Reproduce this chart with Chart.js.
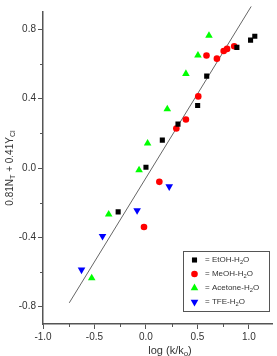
<!DOCTYPE html>
<html>
<head>
<meta charset="utf-8">
<script src="https://cdn.jsdelivr.net/npm/chart.js@4.4.1/dist/chart.umd.min.js"></script>
<style>
  html, body { margin: 0; padding: 0; background: #fff; }
</style>
</head>
<body>
<canvas id="myChart" width="277" height="356"></canvas>
<script>
// data
const etohX = [-0.27, 0.0, 0.159, 0.311, 0.502, 0.59, 0.883, 1.016, 1.057];
const etohY = [-0.253, 0.004, 0.161, 0.253, 0.361, 0.53, 0.696, 0.738, 0.76];

const meohX = [-0.019, 0.13, 0.295, 0.388, 0.508, 0.588, 0.689, 0.755, 0.788, 0.857];
const meohY = [-0.34, -0.08, 0.228, 0.28, 0.413, 0.649, 0.631, 0.675, 0.687, 0.702];

const acetoneX = [-0.527, -0.362, -0.067, 0.016, 0.207, 0.388, 0.505, 0.612];
const acetoneY = [-0.635, -0.267, -0.012, 0.142, 0.34, 0.544, 0.65, 0.764];

const tfeX = [-0.626, -0.422, -0.086, 0.226];
const tfeY = [-0.587, -0.393, -0.245, -0.107];

const fitX = [-0.745, 1.022];
const fitY = [-0.778, 0.932];

const xMajor = [-1.0, -0.5, 0.0, 0.5, 1.0];
const xMinor = [-0.75, -0.25, 0.25, 0.75];
const yMajor = [-0.8, -0.4, 0.0, 0.4, 0.8];
const yMinor = [-0.6, -0.2, 0.2, 0.6];

const seriesNames = ["EtOH-H", "MeOH-H", "Acetone-H", "TFE-H"];

const axisColor = "#555";
const textColor = "#333";
const font = "Liberation Sans, Arial, sans-serif";

const pts = (xs, ys) => xs.map((v, i) => ({ x: v, y: ys[i] }));

// draw text made of [text, isSub] pieces, starting at x
function drawParts(c, parts, x, y, size) {
  parts.forEach(([t, sub]) => {
    c.font = (sub ? size * 0.72 : size) + "px " + font;
    c.fillText(t, x, sub ? y + size * 0.3 : y);
    x += c.measureText(t).width;
  });
  return x;
}
function partsWidth(c, parts, size) {
  let w = 0;
  parts.forEach(([t, sub]) => {
    c.font = (sub ? size * 0.72 : size) + "px " + font;
    w += c.measureText(t).width;
  });
  return w;
}

const extras = {
  id: "extras",
  afterDraw(chart) {
    const c = chart.ctx;
    const a = chart.chartArea;
    const xs = chart.scales.x;
    const ys = chart.scales.y;

    // minor ticks
    c.save();
    c.strokeStyle = axisColor;
    c.lineWidth = 1;
    xMinor.forEach((v) => {
      const p = Math.round(xs.getPixelForValue(v)) + 0.5;
      c.beginPath();
      c.moveTo(p, a.bottom);
      c.lineTo(p, a.bottom + 3);
      c.stroke();
    });
    yMinor.forEach((v) => {
      const p = Math.round(ys.getPixelForValue(v)) + 0.5;
      c.beginPath();
      c.moveTo(a.left, p);
      c.lineTo(a.left - 3, p);
      c.stroke();
    });

    // axis titles
    c.fillStyle = textColor;
    c.textBaseline = "middle";
    c.textAlign = "left";
    const xt = [["log (k/k", false], ["o", true], [")", false]];
    const xw = partsWidth(c, xt, 11);
    drawParts(c, xt, 170 - xw / 2, 351, 11);

    const yt = [["0.81N", false], ["T", true], [" + 0.41Y", false], ["Cl", true]];
    c.save();
    c.translate(10, 168);
    c.rotate(-Math.PI / 2);
    const yw = partsWidth(c, yt, 10);
    drawParts(c, yt, -yw / 2, 0, 10);
    c.restore();

    // legend box
    c.strokeStyle = axisColor;
    c.lineWidth = 1;
    c.strokeRect(183.5, 251.5, 86, 60);
    const rows = [260, 274, 288, 302];
    chart.data.datasets.slice(0, 4).forEach((ds, i) => {
      c.fillStyle = ds.backgroundColor;
      Chart.helpers.drawPoint(
        c,
        { pointStyle: ds.pointStyle, rotation: ds.rotation || 0, radius: ds.pointRadius, borderWidth: 0 },
        194.5,
        rows[i]
      );
      c.fillStyle = textColor;
      drawParts(c, [["= " + seriesNames[i], false], ["2", true], ["O", false]], 205, rows[i], 8);
    });
    c.restore();
  },
};

const ctx = document.getElementById("myChart");

const myChart = new Chart(ctx, {
  type: "scatter",
  data: {
    datasets: [
      {
        data: pts(etohX, etohY),
        pointStyle: "rect",
        pointRadius: 3.6,
        backgroundColor: "#000000",
        borderWidth: 0,
      },
      {
        data: pts(meohX, meohY),
        pointStyle: "circle",
        pointRadius: 3.3,
        backgroundColor: "#ff0000",
        borderWidth: 0,
      },
      {
        data: pts(acetoneX, acetoneY),
        pointStyle: "triangle",
        pointRadius: 4.4,
        backgroundColor: "#00ff00",
        borderWidth: 0,
      },
      {
        data: pts(tfeX, tfeY),
        pointStyle: "triangle",
        rotation: 180,
        pointRotation: 180,
        pointRadius: 4.4,
        backgroundColor: "#0000ff",
        borderWidth: 0,
      },
      {
        type: "line",
        data: pts(fitX, fitY),
        borderColor: "#666",
        borderWidth: 1,
        pointRadius: 0,
        fill: false,
        clip: false,
      },
    ],
  },
  options: {
    responsive: false,
    animation: false,
    events: [],
    layout: { padding: { top: 12, right: 1, left: 0, bottom: 0 } },
    plugins: {
      legend: { display: false },
      tooltip: { enabled: false },
    },
    scales: {
      x: {
        type: "linear",
        min: -1.0,
        max: 1.23,
        afterBuildTicks: (s) => {
          s.ticks = xMajor.map((v) => ({ value: v }));
        },
        afterFit: (s) => {
          s.height = 32;
        },
        grid: {
          drawOnChartArea: false,
          drawTicks: true,
          tickLength: 5,
          tickColor: axisColor,
        },
        border: { display: true, color: axisColor, width: 1.5 },
        ticks: {
          padding: 2,
          color: textColor,
          font: { family: font, size: 10 },
          maxRotation: 0,
          autoSkip: false,
          callback: (v) => Number(v).toFixed(1),
        },
      },
      y: {
        type: "linear",
        min: -0.9,
        max: 0.9,
        afterBuildTicks: (s) => {
          s.ticks = yMajor.map((v) => ({ value: v }));
        },
        afterFit: (s) => {
          s.width = 43;
        },
        grid: {
          drawOnChartArea: false,
          drawTicks: true,
          tickLength: 5,
          tickColor: axisColor,
        },
        border: { display: true, color: axisColor, width: 1.5 },
        ticks: {
          padding: 2,
          color: textColor,
          font: { family: font, size: 10 },
          autoSkip: false,
          callback: (v) => Number(v).toFixed(1),
        },
      },
    },
  },
  plugins: [extras],
});
</script>
</body>
</html>
